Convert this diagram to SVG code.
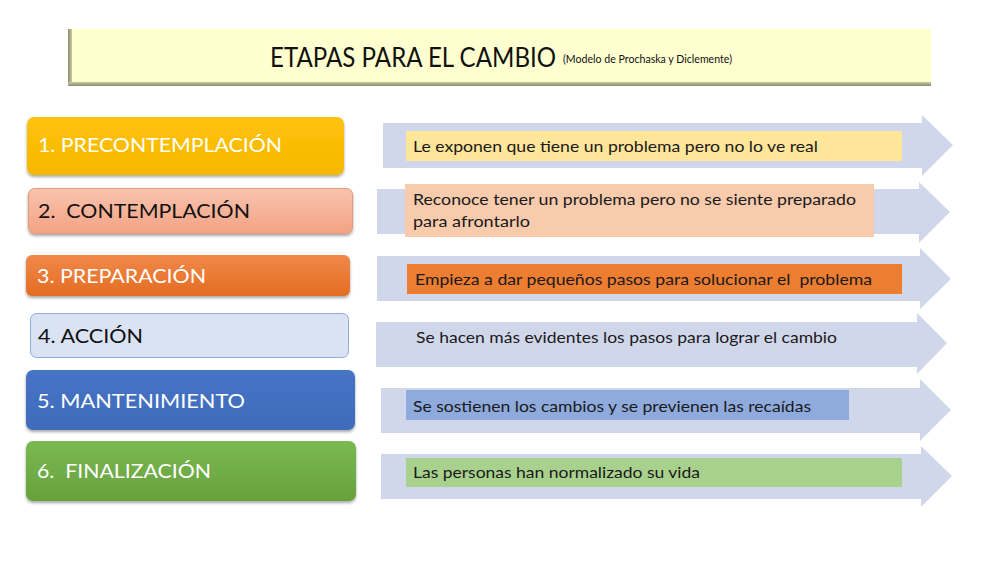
<svg xmlns="http://www.w3.org/2000/svg" width="1000" height="563" viewBox="0 0 1000 563">
<style>
text{white-space:pre}
.lbl{font-family:Lato,"Liberation Sans",sans-serif;font-size:19.5px}
.desc{font-family:Lato,"Liberation Sans",sans-serif;font-size:15px;fill:#1a1a1a}
.w{fill:#ffffff}
.k{fill:#111111}
.arrow{fill:#D1D7EB}
</style>
<defs>
<filter id="sh" x="-5%" y="-10%" width="110%" height="130%">
<feGaussianBlur in="SourceAlpha" stdDeviation="1.5"/>
<feOffset dx="0" dy="2" result="b"/>
<feComponentTransfer><feFuncA type="linear" slope="0.35"/></feComponentTransfer>
<feMerge><feMergeNode/><feMergeNode in="SourceGraphic"/></feMerge>
</filter>
<linearGradient id="g1" x1="0" y1="0" x2="0" y2="1"><stop offset="0" stop-color="#FFC20A"/><stop offset="1" stop-color="#F5B800"/></linearGradient>
<linearGradient id="g2" x1="0" y1="0" x2="0" y2="1"><stop offset="0" stop-color="#F9C3AE"/><stop offset="1" stop-color="#F3A283"/></linearGradient>
<linearGradient id="g3" x1="0" y1="0" x2="0" y2="1"><stop offset="0" stop-color="#F0894A"/><stop offset="1" stop-color="#E46C22"/></linearGradient>
<linearGradient id="g5" x1="0" y1="0" x2="0" y2="1"><stop offset="0" stop-color="#4774C6"/><stop offset="1" stop-color="#3F6BBB"/></linearGradient>
<linearGradient id="g6" x1="0" y1="0" x2="0" y2="1"><stop offset="0" stop-color="#7BB852"/><stop offset="1" stop-color="#66A13C"/></linearGradient>
<linearGradient id="hl" x1="0" y1="0" x2="1" y2="0"><stop offset="0" stop-color="#8C8C6E"/><stop offset="1" stop-color="#C9C9A6"/></linearGradient>
<linearGradient id="hb" x1="0" y1="0" x2="0" y2="1"><stop offset="0" stop-color="#C9C9A6"/><stop offset="1" stop-color="#8C8C70"/></linearGradient>
</defs>

<g id="header">
<rect x="68" y="29" width="863" height="57" fill="#FFFFD0"/>
<rect x="68" y="29" width="4" height="57" fill="url(#hl)"/>
<rect x="68" y="82" width="863" height="4" fill="url(#hb)"/>
<text x="270" y="67" font-family="Lato,'Liberation Sans',sans-serif" font-size="26" fill="#111" textLength="286" lengthAdjust="spacingAndGlyphs">ETAPAS PARA EL CAMBIO</text>
<text x="563" y="63" font-family="Lato,'Liberation Sans',sans-serif" font-size="10.5" fill="#111" textLength="169" lengthAdjust="spacingAndGlyphs">(Modelo de Prochaska y Diclemente)</text>
</g>

<g id="connectors">
<polygon class="arrow" points="383,123 922,123 922,115 953,145 922,176 922,168 383,168"/>
<polygon class="arrow" points="377,189 919,189 919,182 950,212 919,243 919,234 377,234"/>
<polygon class="arrow" points="377,256 920,256 920,248 951,279 920,309 920,301 377,301"/>
<polygon class="arrow" points="376,322 917,322 917,313 947,343 917,374 917,367 376,367"/>
<polygon class="arrow" points="381,388 920,388 920,379 951,410 920,441 920,433 381,433"/>
<polygon class="arrow" points="381,454 921,454 921,446 952,476 921,507 921,499 381,499"/>
</g>

<g id="stage1">
<rect x="27" y="117" width="317" height="58" rx="7" fill="url(#g1)" filter="url(#sh)"/>
<text class="lbl w" x="38" y="152" textLength="244" lengthAdjust="spacingAndGlyphs">1. PRECONTEMPLACIÓN</text>
</g>
<g id="stage2">
<rect x="28.5" y="188.5" width="324" height="45" rx="6" fill="url(#g2)" stroke="#E39A7C" stroke-width="1" filter="url(#sh)"/>
<text class="lbl k" x="38" y="218" textLength="212" lengthAdjust="spacingAndGlyphs">2.  CONTEMPLACIÓN</text>
</g>
<g id="stage3">
<rect x="26" y="255" width="324" height="41" rx="6" fill="url(#g3)" filter="url(#sh)"/>
<text class="lbl w" x="37" y="283" textLength="169" lengthAdjust="spacingAndGlyphs">3. PREPARACIÓN</text>
</g>
<g id="stage4">
<rect x="30.5" y="313.5" width="318" height="44" rx="6" fill="#DAE3F3" stroke="#8FAADC" stroke-width="1"/>
<text class="lbl k" x="38" y="343" textLength="105" lengthAdjust="spacingAndGlyphs">4. ACCIÓN</text>
</g>
<g id="stage5">
<rect x="26" y="370" width="329" height="60" rx="7" fill="url(#g5)" filter="url(#sh)"/>
<text class="lbl w" x="37" y="408" textLength="208" lengthAdjust="spacingAndGlyphs">5. MANTENIMIENTO</text>
</g>
<g id="stage6">
<rect x="26" y="441" width="330" height="60" rx="7" fill="url(#g6)" filter="url(#sh)"/>
<text class="lbl w" x="37" y="478" textLength="174" lengthAdjust="spacingAndGlyphs">6.  FINALIZACIÓN</text>
</g>

<g id="desc1">
<rect x="406" y="131" width="496" height="30" fill="#FFE699"/>
<text class="desc" x="413" y="152" textLength="405" lengthAdjust="spacingAndGlyphs">Le exponen que tiene un problema pero no lo ve real</text>
</g>
<g id="desc2">
<rect x="405" y="184" width="469" height="53" fill="#F8CBAD"/>
<text class="desc" x="413" y="205" textLength="443" lengthAdjust="spacingAndGlyphs">Reconoce tener un problema pero no se siente preparado</text>
<text class="desc" x="413" y="227" textLength="117" lengthAdjust="spacingAndGlyphs">para afrontarlo</text>
</g>
<g id="desc3">
<rect x="407" y="264" width="495" height="30" fill="#ED7D31"/>
<text class="desc" x="415" y="285" textLength="457" lengthAdjust="spacingAndGlyphs">Empieza a dar pequeños pasos para solucionar el  problema</text>
</g>
<g id="desc4">
<text class="desc" x="416" y="343" textLength="421" lengthAdjust="spacingAndGlyphs">Se hacen más evidentes los pasos para lograr el cambio</text>
</g>
<g id="desc5">
<rect x="406" y="390" width="443" height="30" fill="#8FAADC"/>
<text class="desc" x="413" y="412" textLength="398" lengthAdjust="spacingAndGlyphs">Se sostienen los cambios y se previenen las recaídas</text>
</g>
<g id="desc6">
<rect x="406" y="458" width="496" height="29" fill="#A9D18E"/>
<text class="desc" x="413" y="478" textLength="287" lengthAdjust="spacingAndGlyphs">Las personas han normalizado su vida</text>
</g>
</svg>
